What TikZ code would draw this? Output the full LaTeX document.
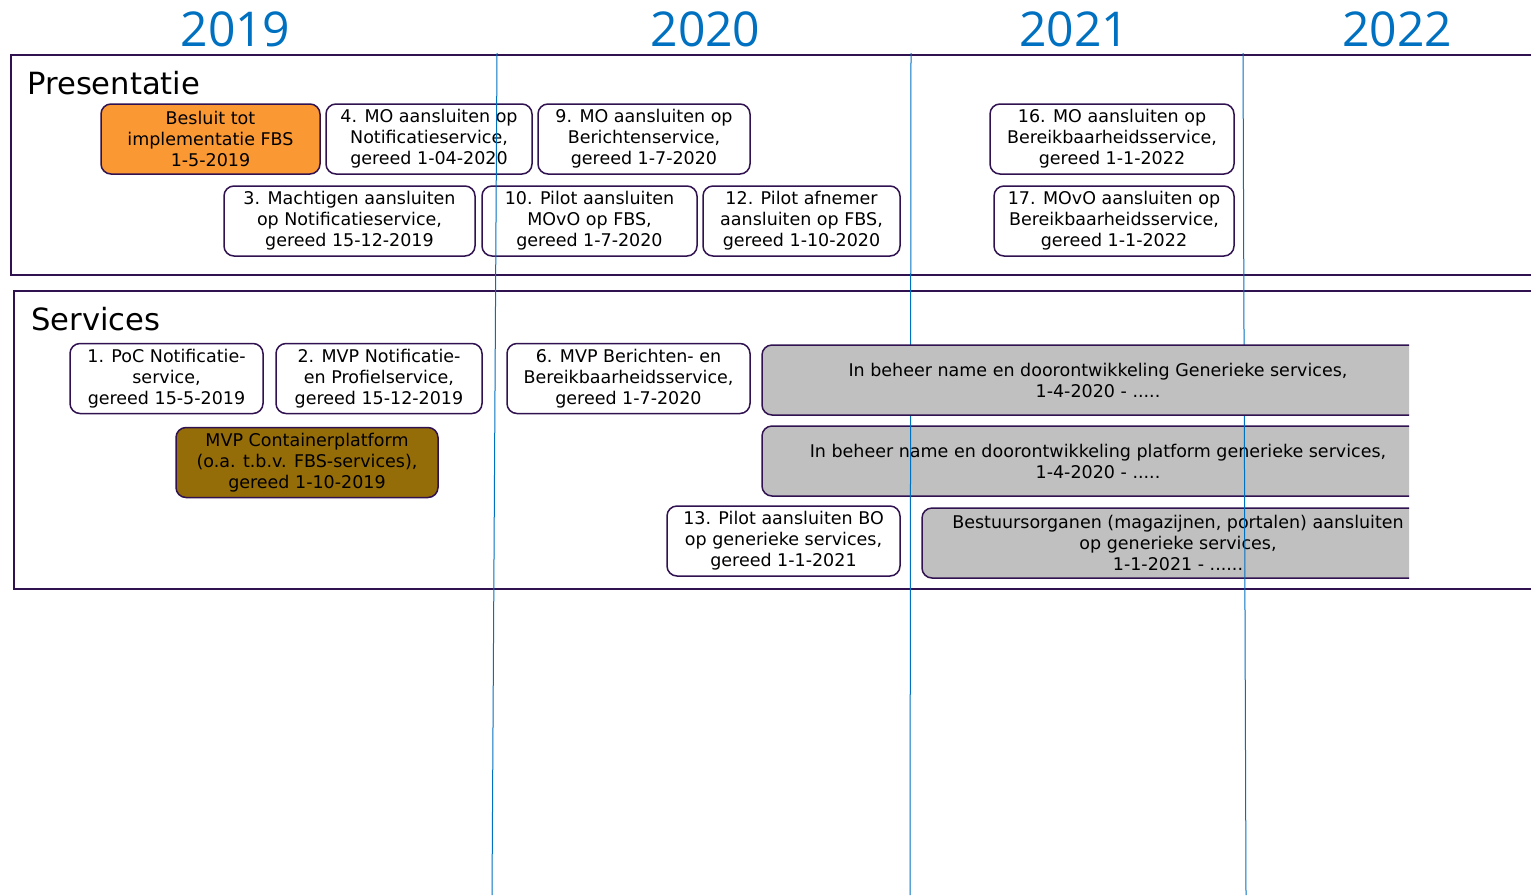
\documentclass[tikz,border=0pt]{standalone}
\usepackage{fontspec}
\setmainfont{DejaVu Sans}
\newfontfamily\yearfont{Open Sans}
\definecolor{framepurple}{RGB}{48,18,80}
\definecolor{yearblue}{RGB}{0,112,192}
\definecolor{besluitorange}{RGB}{250,152,52}
\definecolor{containerbrown}{RGB}{148,108,8}
\definecolor{beheergray}{RGB}{192,192,192}
\begin{document}
\begin{tikzpicture}[x=0.5pt,y=-0.5pt,
    frame/.style={draw=framepurple, line width=1pt},
    box/.style={draw=framepurple, line width=0.75pt, rounded corners=5pt, fill=white,
      align=center, inner sep=0pt, minimum height=35pt,
      font=\fontsize{8.75}{10.5}\selectfont},
    graybox/.style={box, fill=beheergray},
    yearline/.style={draw=yearblue, line width=0.5pt},
    year/.style={text=yearblue, anchor=base, font=\yearfont\fontsize{24}{26}\selectfont},
    heading/.style={anchor=base west, inner sep=0pt, font=\fontsize{15.3}{18}\selectfont}]
    \useasboundingbox (0,0) rectangle (1531,895);
    % years
    \node[year] (y2019) at (235.5,46) {2019};
    \node[year] (y2020) at (705.5,46) {2020};
    \node[year] (y2021) at (1074,46) {2021};
    \node[year] (y2022) at (1397,46) {2022};
    % frames
    \draw[frame] (1531,55) -- (11,55) -- (11,275) -- (1531,275);
    \draw[frame] (1531,291) -- (14,291) -- (14,589) -- (1531,589);
    \node[heading] (presentatie) at (27,94) {Presentatie};
    \node[heading] (services) at (31,330) {Services};
    % presentatie
    \node[box, fill=besluitorange, minimum width=109.5pt] (besluit) at (210.5,139) {Besluit tot\\implementatie FBS\\1-5-2019};
    \node[box, minimum width=103pt] (p4) at (429,139) {4. MO aansluiten op\\Notificatieservice,\\gereed 1-04-2020};
    \node[box, minimum width=106pt] (p9) at (644,139) {9. MO aansluiten op\\Berichtenservice,\\gereed 1-7-2020};
    \node[box, minimum width=122pt] (p16) at (1112,139) {16. MO aansluiten op\\Bereikbaarheidsservice,\\gereed 1-1-2022};
    \node[box, minimum width=125.5pt] (p3) at (349.5,221) {3. Machtigen aansluiten\\op Notificatieservice,\\gereed 15-12-2019};
    \node[box, minimum width=107.5pt] (p10) at (589.5,221) {10. Pilot aansluiten\\MOvO op FBS,\\gereed 1-7-2020};
    \node[box, minimum width=98.5pt] (p12) at (801.5,221) {12. Pilot afnemer\\aansluiten op FBS,\\gereed 1-10-2020};
    \node[box, minimum width=120pt] (p17) at (1114,221) {17. MOvO aansluiten op\\Bereikbaarheidsservice,\\gereed 1-1-2022};
    % services
    \node[box, minimum width=96.5pt] (s1) at (166.5,378.5) {1. PoC Notificatie-\\service,\\gereed 15-5-2019};
    \node[box, minimum width=103pt] (s2) at (379,378.5) {2. MVP Notificatie-\\en Profielservice,\\gereed 15-12-2019};
    \node[box, minimum width=121.5pt] (s6) at (628.5,378.5) {6. MVP Berichten- en\\Bereikbaarheidsservice,\\gereed 1-7-2020};
    \node[box, fill=containerbrown, minimum width=131pt] (container) at (307,462.5) {MVP Containerplatform\\(o.a. t.b.v. FBS-services),\\gereed 1-10-2019};
    \node[box, minimum width=116.5pt] (s13) at (783.5,541) {13. Pilot aansluiten BO\\op generieke services,\\gereed 1-1-2021};
    \begin{scope}
      \clip (700,300) rectangle (1409,585);
      \node[graybox, minimum width=336pt] (beheerplatform) at (1098,461) {In beheer name en doorontwikkeling platform generieke services,\\1-4-2020 - .....};
      \node[graybox, minimum width=256pt] (bestuursorganen) at (1178,543) {Bestuursorganen (magazijnen, portalen) aansluiten\\op generieke services,\\1-1-2021 - ......};
    \end{scope}
    % jaargrenzen
    \foreach \xa/\xb in {497/492, 911/910, 1243/1246}
    {
      \draw[yearline] (\xa,53) -- (\xb,895);
    }
    \begin{scope}
      \clip (700,300) rectangle (1409,420);
      \node[graybox, minimum width=336pt] (beheergeneriek) at (1098,380) {In beheer name en doorontwikkeling Generieke services,\\1-4-2020 - .....};
    \end{scope}
  \end{tikzpicture}
\end{document}
